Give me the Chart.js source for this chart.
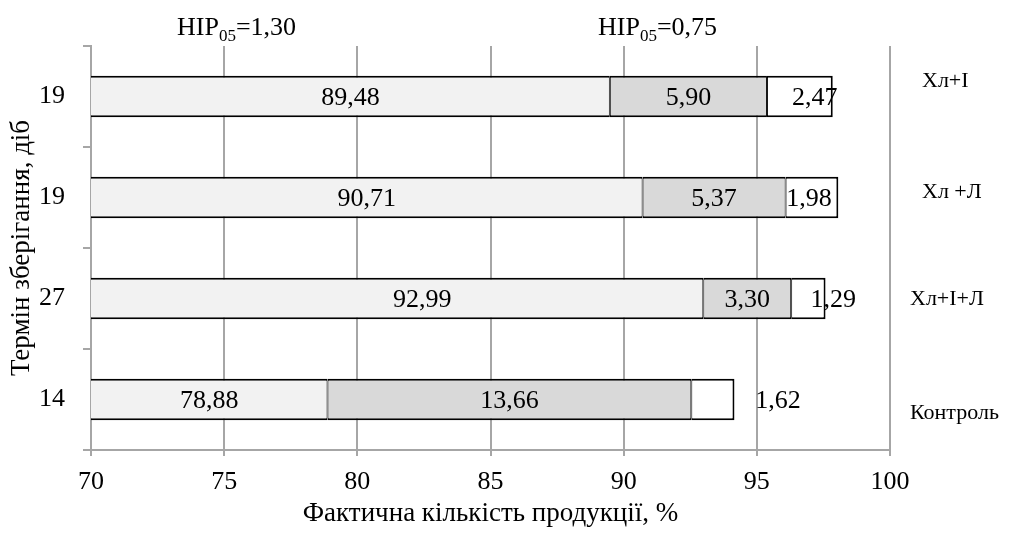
<!DOCTYPE html>
<html>
<head>
<meta charset="utf-8">
<script src="https://cdn.jsdelivr.net/npm/chart.js@4.4.1/dist/chart.umd.min.js"></script>
<style>
  html, body { margin: 0; padding: 0; background: #fff; }
  #wrap { width: 1010px; height: 534px; position: relative; }
</style>
</head>
<body>
<div id="wrap"><canvas id="chart"></canvas></div>
<script>
// storage term (days) per variant, top to bottom
var days = ['19', '19', '27', '14'];
var variants = ['Хл+І', 'Хл +Л', 'Хл+І+Л', 'Контроль'];
var part1 = [89.48, 90.71, 92.99, 78.88];
var part2 = [5.90, 5.37, 3.30, 13.66];
var part3 = [2.47, 1.98, 1.29, 1.62];
var lsdLabels = [['НІР', '05', '=1,30'], ['НІР', '05', '=0,75']];

var serif = "'Liberation Serif', 'Times New Roman', serif";

// draws values on the bars, variant names on the right and the НІР notes on top
var textPlugin = {
    id: 'textPlugin',
    afterDatasetsDraw: function (chart, args, opts) {
        var ctx = chart.ctx;
        var area = chart.chartArea;
        ctx.save();
        ctx.fillStyle = '#000';
        ctx.font = '26px ' + serif;
        ctx.textAlign = 'center';
        ctx.textBaseline = 'middle';
        chart.data.datasets.forEach(function (ds, di) {
            var meta = chart.getDatasetMeta(di);
            meta.data.forEach(function (bar, i) {
                var left = Math.max(bar.base, area.left);
                var cx = (left + bar.x) / 2 + opts.shift[di][i];
                var txt = ds.data[i].toFixed(2).replace('.', ',');
                ctx.fillText(txt, cx, bar.y + 2);
            });
        });

        // variant names on the right
        ctx.font = '22px ' + serif;
        ctx.textAlign = 'left';
        var meta0 = chart.getDatasetMeta(0);
        variants.forEach(function (v, i) {
            ctx.fillText(v, area.right + opts.nameX[i], meta0.data[i].y + opts.nameY[i]);
        });

        // НІР05 notes
        ctx.textBaseline = 'alphabetic';
        lsdLabels.forEach(function (parts, i) {
            var x = opts.lsdX[i];
            var y = 35;
            ctx.font = '26px ' + serif;
            ctx.fillText(parts[0], x, y);
            x += ctx.measureText(parts[0]).width;
            ctx.font = '17px ' + serif;
            ctx.fillText(parts[1], x, y + 6);
            x += ctx.measureText(parts[1]).width;
            ctx.font = '26px ' + serif;
            ctx.fillText(parts[2], x, y);
        });
        ctx.restore();
    }
};

function barStyle(fill, leftW, rightW) {
    return {
        backgroundColor: fill,
        borderColor: '#000',
        borderWidth: { top: 2, bottom: 2, left: leftW, right: rightW },
        borderSkipped: false,
        categoryPercentage: 1,
        barPercentage: 0.41
    };
}

new Chart(document.getElementById('chart'), {
    type: 'bar',
    data: {
        labels: days,
        datasets: [
            Object.assign({ data: part1 }, barStyle('#f2f2f2', 2, 1)),
            Object.assign({ data: part2 }, barStyle('#d9d9d9', 1, 1)),
            Object.assign({ data: part3 }, barStyle('#ffffff', 1, 2))
        ]
    },
    options: {
        indexAxis: 'y',
        responsive: true,
        maintainAspectRatio: false,
        animation: false,
        layout: { padding: { left: 0, right: 120, top: 46, bottom: 0 } },
        plugins: {
            legend: { display: false },
            tooltip: { enabled: false },
            textPlugin: {
                shift: [[0, 0, 25, 0], [0, 0, 0, 0], [15, -3, 25, 65]],
                nameX: [32, 32, 20, 20],
                nameY: [-15, -5, 1, 14],
                lsdX: [177, 598]
            }
        },
        scales: {
            x: {
                stacked: true,
                min: 70,
                max: 100,
                ticks: {
                    stepSize: 5,
                    color: '#000',
                    font: { family: serif, size: 26 },
                    padding: 11
                },
                grid: { color: '#a6a6a6', lineWidth: 2, tickLength: 6 },
                border: { color: '#a6a6a6', width: 2 },
                title: {
                    display: true,
                    text: 'Фактична кількість продукції, %',
                    color: '#000',
                    font: { family: serif, size: 27 },
                    padding: { top: 6 }
                },
                afterFit: function (scale) { scale.height = 84; }
            },
            y: {
                stacked: true,
                ticks: {
                    color: '#000',
                    font: { family: serif, size: 26 },
                    padding: 18
                },
                grid: { drawOnChartArea: false, color: '#a6a6a6', lineWidth: 2, tickLength: 8 },
                border: { color: '#a6a6a6', width: 2 },
                title: {
                    display: true,
                    text: 'Термін зберігання, діб',
                    color: '#000',
                    font: { family: serif, size: 27 },
                    padding: { top: 6, bottom: 0 }
                },
                afterFit: function (scale) { scale.width = 91; }
            }
        }
    },
    plugins: [textPlugin]
});
</script>
</body>
</html>
